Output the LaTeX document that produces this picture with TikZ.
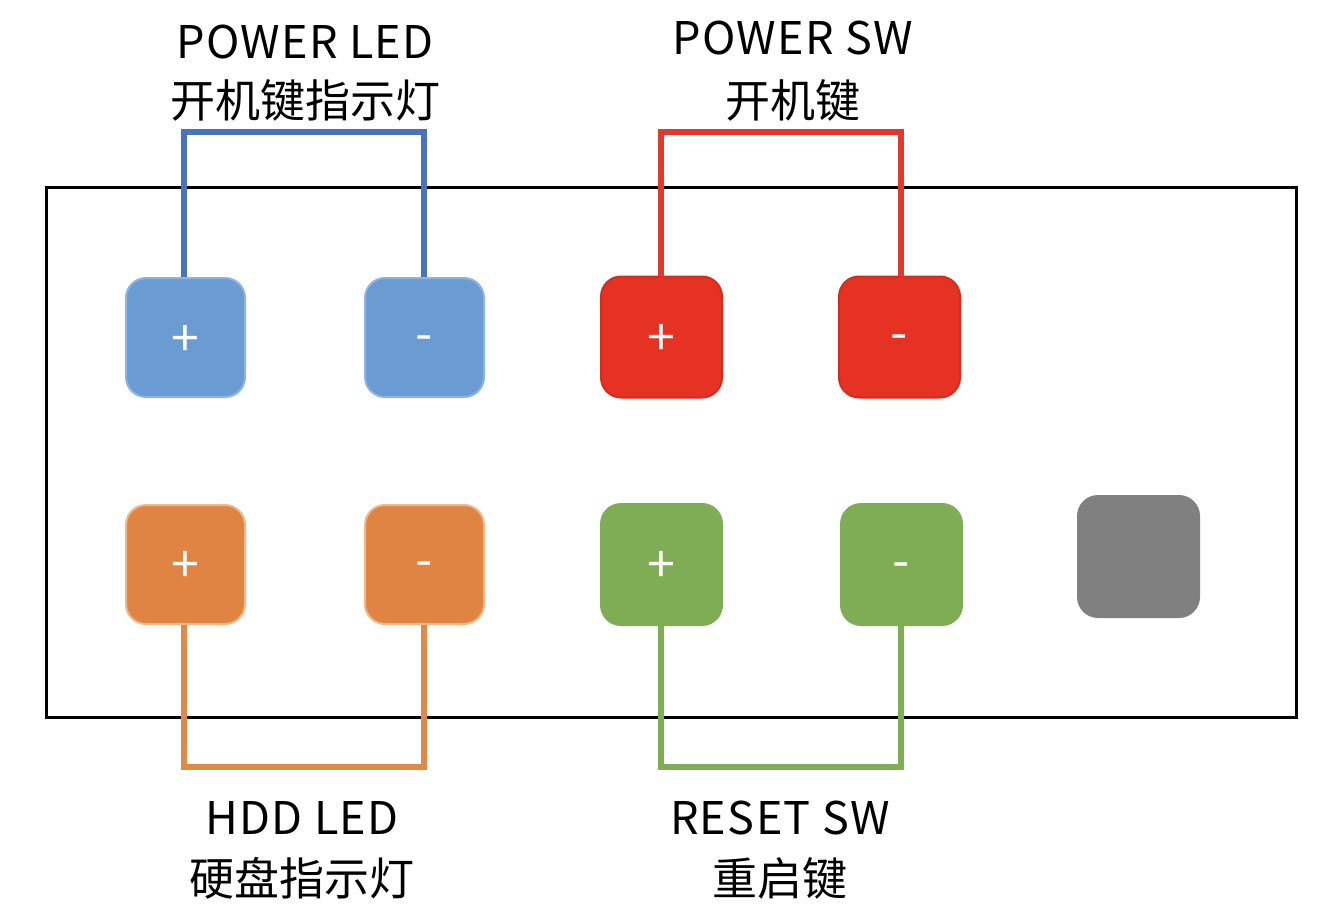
\documentclass[tikz,border=0pt]{standalone}
\usepackage{fontspec}
\setmainfont{Noto Sans CJK SC}
\newfontfamily\latinlab[LetterSpace=3]{Noto Sans CJK SC}
\begin{document}
\begin{tikzpicture}[x=1pt,y=-1pt,
  pin/.style={rounded corners=20pt, line width=2pt},
  wire/.style={line width=6pt},
  lab/.style={font=\fontsize{45}{50}\selectfont, inner sep=0pt},
  latlab/.style={font=\latinlab\fontsize{45}{50}\selectfont, inner sep=0pt},
  sym/.style={font=\fontsize{50}{54}\selectfont, text=white, inner sep=0pt}]
\definecolor{bfill}{HTML}{6A9BD3}\definecolor{bdraw}{HTML}{90B4E0}\definecolor{bline}{HTML}{4A72BD}
\definecolor{rfill}{HTML}{E53222}\definecolor{rdraw}{HTML}{D22E20}\definecolor{rline}{HTML}{E03A2E}
\definecolor{ofill}{HTML}{E08443}\definecolor{odraw}{HTML}{EDB88A}\definecolor{oline}{HTML}{E08A45}
\definecolor{gfill}{HTML}{7FAD55}\definecolor{gline}{HTML}{80AE55}
\definecolor{kfill}{HTML}{808080}
\useasboundingbox (0,0) rectangle (1322,912);
\fill[white] (0,0) rectangle (1322,912);
\draw[line width=3pt] (46,188) rectangle (1296,717);
% wires
\coordinate (bl) at (184,132); \coordinate (br) at (424,132);
\coordinate (rl) at (661,132); \coordinate (rr) at (901,132);
\coordinate (ol) at (184,767); \coordinate (or) at (424,767);
\coordinate (gl) at (661,767); \coordinate (gr) at (901,767);
% pins
\node[pin, fill=bfill, draw=bdraw, minimum size=119pt] (b1) at (185.5,337.5) {};
\node[pin, fill=bfill, draw=bdraw, minimum size=119pt] (b2) at (424.5,337.5) {};
\node[pin, fill=rfill, draw=rdraw, minimum size=121pt] (r1) at (661.5,337) {};
\node[pin, fill=rfill, draw=rdraw, minimum size=121pt] (r2) at (899.5,337) {};
\node[pin, fill=ofill, draw=odraw, minimum size=119pt] (o1) at (185.5,564.5) {};
\node[pin, fill=ofill, draw=odraw, minimum size=119pt] (o2) at (424.5,564.5) {};
\node[pin, fill=gfill, draw=gfill, minimum size=121pt] (g1) at (661.5,564.5) {};
\node[pin, fill=gfill, draw=gfill, minimum size=121pt] (g2) at (901.5,564.5) {};
\node[pin, fill=kfill, draw=kfill, minimum size=121pt] (k1) at (1138.5,556.5) {};
\draw[wire, bline] (b1.north -| bl) -- (bl) -- (br) -- (b2.north -| br);
\draw[wire, rline] (r1.north -| rl) -- (rl) -- (rr) -- (r2.north -| rr);
\draw[wire, oline] (o1.south -| ol) -- (ol) -- (or) -- (o2.south -| or);
\draw[wire, gline] (g1.south -| gl) -- (gl) -- (gr) -- (g2.south -| gr);
% symbols
\node[sym] (b1t) at ([yshift=-3pt]b1.center) {+};
\node[sym] (b2t) at ([yshift=-6pt]b2.center) {-};
\node[sym] (r1t) at ([yshift=-3pt]r1.center) {+};
\node[sym] (r2t) at ([yshift=-6pt]r2.center) {-};
\node[sym] (o1t) at ([yshift=-2pt]o1.center) {+};
\node[sym] (o2t) at ([yshift=-5pt]o2.center) {-};
\node[sym] (g1t) at ([yshift=-2pt]g1.center) {+};
\node[sym] (g2t) at ([yshift=-6pt]g2.center) {-};
% labels
\node[latlab] (l1a) at (305,42) {POWER LED};
\node[lab] (l1b) at (305,100) {开机键指示灯};
\node[latlab] (l2a) at (793,38) {POWER SW};
\node[lab] (l2b) at (793,100) {开机键};
\node[latlab] (l3a) at (302,818) {HDD LED};
\node[lab] (l3b) at (302,878) {硬盘指示灯};
\node[latlab] (l4a) at (780,818) {RESET SW};
\node[lab] (l4b) at (780,878) {重启键};
\end{tikzpicture}
\end{document}
